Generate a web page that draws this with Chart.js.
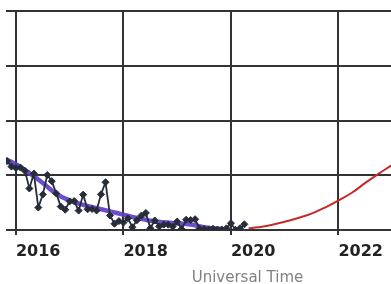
<!DOCTYPE html>
<html>
<head>
<meta charset="utf-8">
<script src="https://cdn.jsdelivr.net/npm/chart.js@4.4.1/dist/chart.umd.min.js"></script>
<style>
  html, body { margin: 0; padding: 0; background: #fff; overflow: hidden; }
  #wrap { position: relative; width: 500px; height: 284px; }
</style>
</head>
<body>
<div id="wrap"><canvas id="chart"></canvas></div>
<script>
// monthly sunspot numbers, smoothed curve and predicted curve

const monthLabels = [
  "2015-10", "2015-11", "2015-12",
  "2016-01", "2016-02", "2016-03", "2016-04", "2016-05", "2016-06",
  "2016-07", "2016-08", "2016-09", "2016-10", "2016-11", "2016-12",
  "2017-01", "2017-02", "2017-03", "2017-04", "2017-05", "2017-06",
  "2017-07", "2017-08", "2017-09", "2017-10", "2017-11", "2017-12",
  "2018-01", "2018-02", "2018-03", "2018-04", "2018-05", "2018-06",
  "2018-07", "2018-08", "2018-09", "2018-10", "2018-11", "2018-12",
  "2019-01", "2019-02", "2019-03", "2019-04", "2019-05", "2019-06",
  "2019-07", "2019-08", "2019-09", "2019-10", "2019-11", "2019-12",
  "2020-01", "2020-02", "2020-03", "2020-04"
];
const monthlyValues = [
  61.7, 62.9, 57.9,
  56.6, 57.0, 54.0, 37.9, 51.5, 20.5,
  32.4, 50.2, 44.6, 33.4, 21.4, 18.5,
  26.1, 26.4, 17.7, 32.3, 18.9, 19.2,
  17.8, 32.6, 43.6, 13.2, 5.7, 8.2,
  6.8, 10.7, 2.5, 8.9, 13.1, 15.6,
  1.6, 8.7, 3.3, 4.9, 4.9, 3.1,
  7.7, 0.8, 9.4, 9.1, 9.9, 1.2,
  0.9, 0.5, 1.1, 0.4, 0.5, 1.5,
  6.2, 0.2, 1.5, 5.2
];

const smoothedYears = [2015.75, 2016.0, 2016.25, 2016.5, 2016.75, 2017.0, 2017.25, 2017.5,
  2017.75, 2018.0, 2018.25, 2018.5, 2018.75, 2019.0, 2019.25, 2019.5, 2019.67, 2019.83];
const smoothedValues = [66, 60, 52, 43, 33, 27, 23, 20,
  17, 14, 11, 8.5, 7, 6, 5, 2.5, 1.5, 1.0];

const predictedYears = [2020.33, 2020.5, 2020.75, 2021.0, 2021.25, 2021.5, 2021.75,
  2022.0, 2022.25, 2022.5, 2022.75, 2023.0, 2023.25];
const predictedValues = [1.5, 2.5, 4.5, 7.5, 11, 15, 20.5,
  27, 34, 43, 51.5, 59.5, 68];

const xTicks = [2016, 2018, 2020, 2022, 2024];
const yTicks = [0, 50, 100, 150, 200];

function toYear(label) {
  const parts = label.split("-");
  return Number(parts[0]) + (Number(parts[1]) - 1) / 12;
}

function pairs(xs, ys) {
  return xs.map((x, i) => ({ x: x, y: ys[i] }));
}

const gridColor = "#333";

new Chart(document.getElementById("chart").getContext("2d"), {
  type: "line",
  data: {
    datasets: [
      {
        label: "Predicted",
        data: pairs(predictedYears, predictedValues),
        borderColor: "rgb(196, 42, 42)",
        borderWidth: 2,
        pointRadius: 0,
        tension: 0.4,
        fill: false,
        order: 3,
      },
      {
        label: "Smoothed",
        data: pairs(smoothedYears, smoothedValues),
        borderColor: "rgba(92, 58, 200, 0.9)",
        borderWidth: 4.5,
        pointRadius: 0,
        tension: 0.4,
        fill: false,
        order: 2,
      },
      {
        label: "Monthly",
        data: pairs(monthLabels.map(toYear), monthlyValues),
        borderColor: "#262c3a",
        backgroundColor: "#262c3a",
        borderWidth: 1.8,
        pointStyle: "rectRot",
        pointRadius: 3.5,
        pointBorderWidth: 1,
        tension: 0,
        fill: false,
        order: 1,
      },
    ],
  },
  options: {
    responsive: true,
    maintainAspectRatio: false,
    animation: false,
    events: [],
    layout: { padding: { left: 6, top: 11, right: 6, bottom: 0 } },
    plugins: {
      legend: { display: false },
      tooltip: { enabled: false },
    },
    scales: {
      x: {
        type: "linear",
        min: 2015.815,
        max: 2024.8,
        afterBuildTicks: (axis) => {
          axis.ticks = xTicks.map((v) => ({ value: v }));
        },
        grid: { color: gridColor, lineWidth: 2, tickLength: 5, drawTicks: true },
        border: { display: false },
        ticks: {
          align: "start",
          padding: 9,
          color: "#222",
          font: { family: "DejaVu Sans", size: 16, weight: "bold", lineHeight: 1 },
          callback: (v) => String(v),
        },
        title: {
          display: true,
          text: "Universal Time",
          color: "#808080",
          font: { family: "DejaVu Sans", size: 15, lineHeight: 0.8 },
          padding: { top: 3, bottom: 0 },
        },
      },
      y: {
        min: 0,
        max: 200,
        afterBuildTicks: (axis) => {
          axis.ticks = yTicks.map((v) => ({ value: v }));
        },
        grid: { color: gridColor, lineWidth: 2, drawTicks: false },
        border: { display: false },
        ticks: { display: false },
      },
    },
  },
});
</script>
</body>
</html>
